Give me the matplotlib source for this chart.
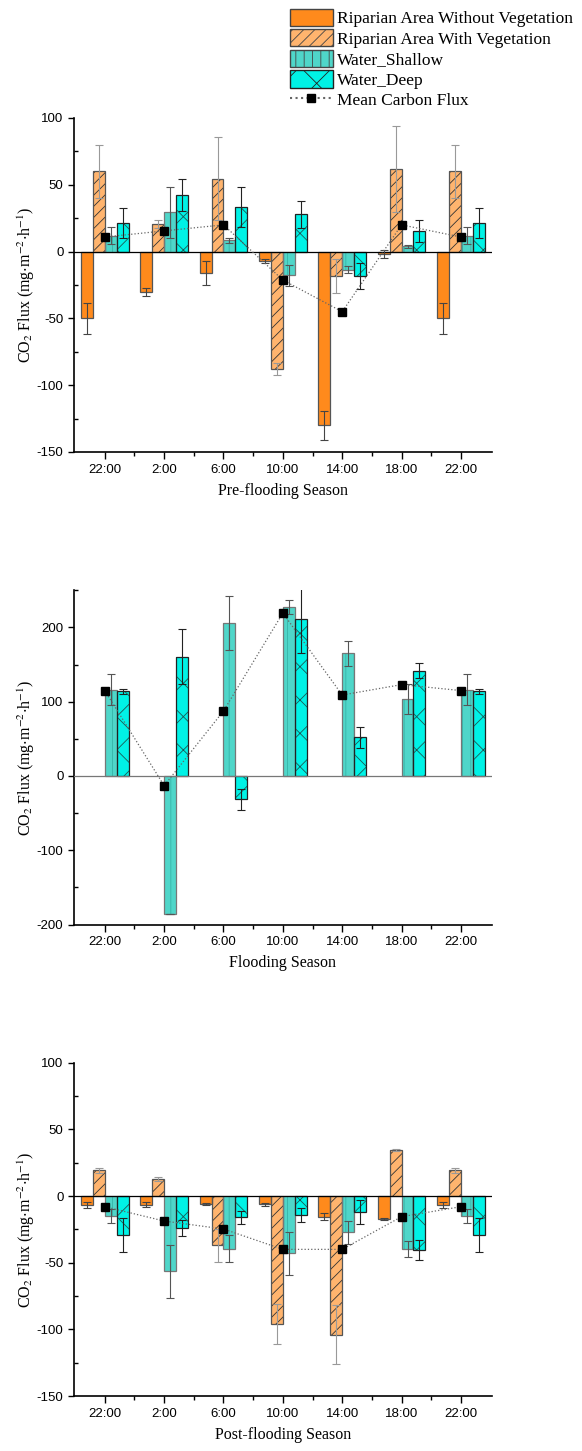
import matplotlib
matplotlib.use('Agg')
import matplotlib.pyplot as plt
from matplotlib.patches import Patch
from matplotlib.lines import Line2D
from matplotlib.ticker import MultipleLocator, FixedLocator
import numpy as np

plt.rcParams['font.family'] = ['Liberation Serif', 'DejaVu Serif']
plt.rcParams['mathtext.fontset'] = 'stix'
plt.rcParams['hatch.linewidth'] = 0.6
plt.rcParams['axes.unicode_minus'] = False

times = ['22:00', '2:00', '6:00', '10:00', '14:00', '18:00', '22:00']

# pre-flooding season
pre_bare = [-50, -30, -16, -7, -130, -1.5, -50]
pre_bare_err = [11.5, 3, 8.8, 1.5, 11, 3, 11.5]
pre_veg = [60, 20.3, 54.4, -88, -18.3, 61.7, 60]
pre_veg_err = [20, 3, 31, 4.7, 12.5, 32, 20]
pre_shallow = [12, 29.3, 8.5, -17.8, -13.5, 3.8, 12]
pre_shallow_err = [6.5, 19, 2, 8, 2.7, 1, 6.5]
pre_deep = [21.5, 42.6, 33.6, 27.8, -18.3, 15.3, 21.5]
pre_deep_err = [11, 12, 15, 10, 10, 8, 11]
pre_mean = [10.9, 15.5, 20, -21.3, -45, 20, 10.9]

# flooding season (only water sites)
fl_shallow = [116, -186, 205.8, 227.4, 165, 103.8, 116]
fl_shallow_err = [21, 0, 36, 9, 16.6, 20, 21]
fl_deep = [114, 160.4, -31.5, 211, 52, 142, 114]
fl_deep_err = [3, 37, 14, 45, 14.5, 10, 3]
fl_mean = [115, -13, 87.5, 219.3, 109, 123, 115]

# post-flooding season
post_bare = [-6.75, -6.5, -6, -6.25, -15.5, -17.25, -6.75]
post_bare_err = [2, 2, 1, 1, 2.5, 1, 2]
post_veg = [19.25, 13, -37, -96.3, -104, 34.5, 19.25]
post_veg_err = [2, 1.5, 12.5, 15, 22, 1, 2]
post_shallow = [-15, -56.5, -39.5, -43, -27.3, -39.75, -15]
post_shallow_err = [5, 20, 10, 16, 8.5, 6.25, 5]
post_deep = [-29.3, -24.3, -16, -14.3, -12, -40.25, -29.3]
post_deep_err = [12.7, 6, 5, 5, 9, 7.5, 12.7]
post_mean = [-8, -18.75, -24.75, -40, -40, -15.5, -8]

# series styles: face, hatch, hatch colour, edge, error colour
styles = {
    'bare': ('#FF8A1C', None, '#555555', '#555555', '#444444'),
    'veg': ('#FFB46E', '///', '#333333', '#555555', '#999999'),
    'shallow': ('#4FD6C9', '||', '#36b3a7', '#777777', '#555555'),
    'deep': ('#00F2E6', 'x', '#1a5a55', '#222222', '#222222'),
}
offsets = {'bare': -1.5, 'veg': -0.5, 'shallow': 0.5, 'deep': 1.5}
w = 0.2
x = np.arange(len(times))

fig = plt.figure(figsize=(5.82, 14.51), dpi=100)


def draw_panel(ax, series, mean, ylim, major, minor, xlabel, zero_color):
    for key, vals, errs in series:
        face, hatch, hcol, ecol, errcol = styles[key]
        pos = x + offsets[key] * w
        if hatch:
            ax.bar(pos, vals, w, color=face, hatch=hatch, edgecolor=hcol,
                   linewidth=0, zorder=2)
            ax.bar(pos, vals, w, fill=False, edgecolor=ecol, linewidth=0.9, zorder=3)
        else:
            ax.bar(pos, vals, w, color=face, edgecolor=ecol, linewidth=0.9, zorder=3)
        ax.errorbar(pos, vals, yerr=errs, fmt='none', ecolor=errcol,
                    elinewidth=0.8, capsize=3, capthick=0.8, zorder=4)
    ax.axhline(0, color=zero_color, linewidth=0.9, zorder=3.5)
    ax.plot(x, mean, linestyle=':', color='#666666', linewidth=0.9,
            marker='s', markersize=6, markerfacecolor='black',
            markeredgecolor='black', zorder=5)
    ax.set_xlim(-0.52, 6.52)
    ax.set_ylim(*ylim)
    ax.set_xticks(x)
    ax.set_xticklabels(times, fontfamily='Liberation Sans', fontsize=9.5)
    ax.xaxis.set_minor_locator(FixedLocator(x[:-1] + 0.5))
    ax.yaxis.set_major_locator(MultipleLocator(major))
    ax.yaxis.set_minor_locator(MultipleLocator(minor))
    for lab in ax.get_yticklabels():
        lab.set_fontfamily('Liberation Sans')
        lab.set_fontsize(9.5)
    ax.tick_params(axis='y', which='major', direction='out', length=4, width=1)
    ax.tick_params(axis='y', which='minor', direction='in', length=3, width=1)
    ax.tick_params(axis='x', which='major', direction='out', length=5, width=1)
    ax.tick_params(axis='x', which='minor', direction='out', length=3, width=1)
    ax.spines['top'].set_visible(False)
    ax.spines['right'].set_visible(False)
    ax.spines['left'].set_linewidth(1.2)
    ax.spines['bottom'].set_linewidth(1.2)
    ax.set_xlabel(xlabel, fontsize=11.5, labelpad=5)
    ax.set_ylabel(r'CO$_2$ Flux (mg$\cdot$m$^{-2}$$\cdot$h$^{-1}$)', fontsize=11.5, labelpad=0)


ax1 = fig.add_axes([0.127, 0.6885, 0.718, 0.2302])
draw_panel(ax1, [('bare', pre_bare, pre_bare_err), ('veg', pre_veg, pre_veg_err),
                 ('shallow', pre_shallow, pre_shallow_err), ('deep', pre_deep, pre_deep_err)],
           pre_mean, (-150, 100), 50, 25, 'Pre-flooding Season', 'black')

ax2 = fig.add_axes([0.127, 0.3628, 0.718, 0.2304])
draw_panel(ax2, [('shallow', fl_shallow, fl_shallow_err), ('deep', fl_deep, fl_deep_err)],
           fl_mean, (-200, 250), 100, 50, 'Flooding Season', '#777777')

ax3 = fig.add_axes([0.127, 0.0379, 0.718, 0.2297])
draw_panel(ax3, [('bare', post_bare, post_bare_err), ('veg', post_veg, post_veg_err),
                 ('shallow', post_shallow, post_shallow_err), ('deep', post_deep, post_deep_err)],
           post_mean, (-150, 100), 50, 25, 'Post-flooding Season', 'black')

handles = [
    Patch(facecolor=styles['bare'][0], edgecolor='#444444'),
    Patch(facecolor=styles['veg'][0], edgecolor='#444444', hatch='///'),
    Patch(facecolor=styles['shallow'][0], edgecolor='#444444', hatch='||'),
    Patch(facecolor=styles['deep'][0], edgecolor='#222222', hatch='x'),
    Line2D([], [], linestyle=':', color='#666666', marker='s', markersize=6,
           markerfacecolor='black', markeredgecolor='black'),
]
labels = ['Riparian Area Without Vegetation', 'Riparian Area With Vegetation',
          'Water_Shallow', 'Water_Deep', 'Mean Carbon Flux']
fig.legend(handles, labels, loc='upper left', bbox_to_anchor=(0.483, 1.0),
           frameon=False, fontsize=12.5, handlelength=2.5, handleheight=1.15,
           labelspacing=0.12, handletextpad=0.2, borderaxespad=0.1)

fig.savefig('out.png', dpi=100)
